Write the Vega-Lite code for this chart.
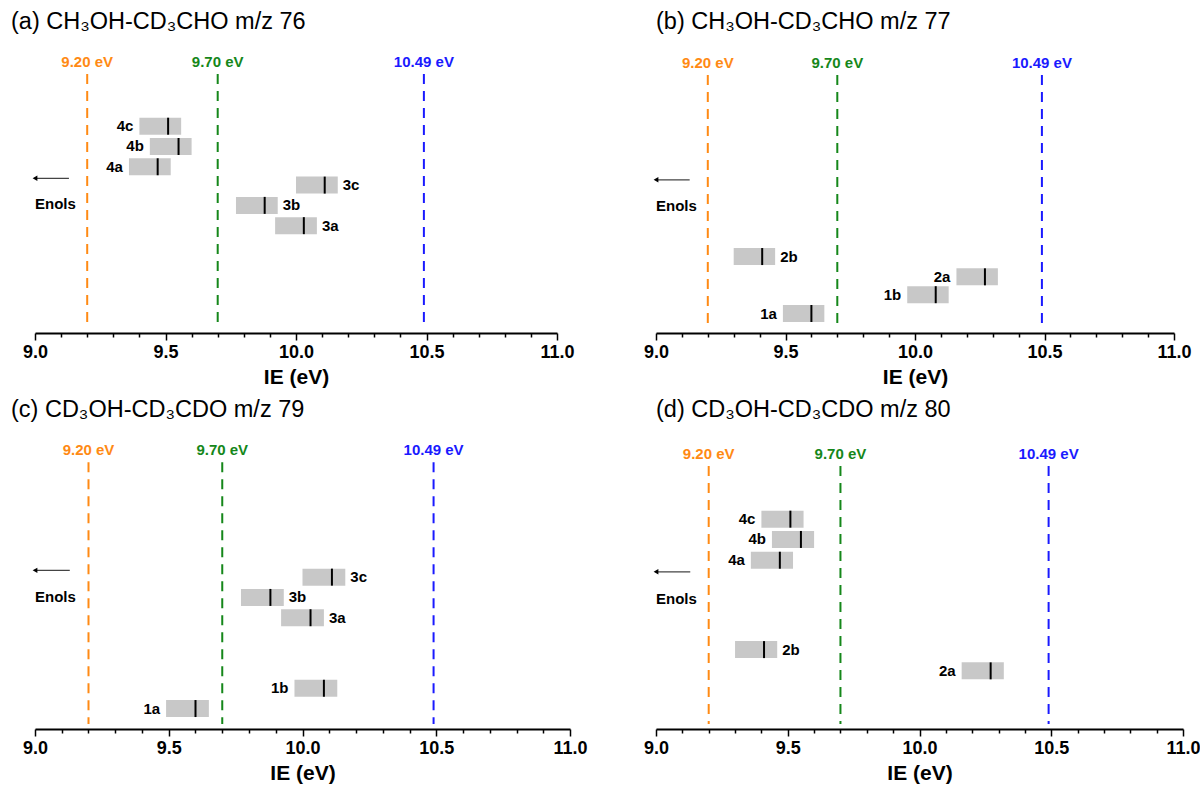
{
  "$schema": "https://vega.github.io/schema/vega-lite/v6.json",
  "padding": {"left": 11, "top": 9, "right": 5, "bottom": 5},
  "bounds": "flush",
  "columns": 2,
  "spacing": {"row": 100, "column": 86},
  "config": {
    "view": {"stroke": null},
    "font": "Liberation Sans",
    "axis": {"grid": false}
  },
  "datasets": {
    "refs": [
      {"panel": "a", "ie": 9.20, "label": "9.20 eV", "top": 263},
      {"panel": "a", "ie": 9.70, "label": "9.70 eV", "top": 263},
      {"panel": "a", "ie": 10.49, "label": "10.49 eV", "top": 263},
      {"panel": "b", "ie": 9.20, "label": "9.20 eV", "top": 262},
      {"panel": "b", "ie": 9.70, "label": "9.70 eV", "top": 262},
      {"panel": "b", "ie": 10.49, "label": "10.49 eV", "top": 262},
      {"panel": "c", "ie": 9.20, "label": "9.20 eV", "top": 271},
      {"panel": "c", "ie": 9.70, "label": "9.70 eV", "top": 271},
      {"panel": "c", "ie": 10.49, "label": "10.49 eV", "top": 271},
      {"panel": "d", "ie": 9.20, "label": "9.20 eV", "top": 267},
      {"panel": "d", "ie": 9.70, "label": "9.70 eV", "top": 267},
      {"panel": "d", "ie": 10.49, "label": "10.49 eV", "top": 267}
    ],
    "boxes": [
      {"panel": "a", "species": "4c", "ie": 9.51, "lo": 9.40, "hi": 9.56, "level": 209, "side": "left"},
      {"panel": "a", "species": "4b", "ie": 9.55, "lo": 9.44, "hi": 9.60, "level": 188, "side": "left"},
      {"panel": "a", "species": "4a", "ie": 9.47, "lo": 9.36, "hi": 9.52, "level": 167, "side": "left"},
      {"panel": "a", "species": "3c", "ie": 10.11, "lo": 10.00, "hi": 10.16, "level": 148, "side": "right"},
      {"panel": "a", "species": "3b", "ie": 9.88, "lo": 9.77, "hi": 9.93, "level": 127, "side": "right"},
      {"panel": "a", "species": "3a", "ie": 10.03, "lo": 9.92, "hi": 10.08, "level": 106, "side": "right"},
      {"panel": "b", "species": "2b", "ie": 9.41, "lo": 9.30, "hi": 9.46, "level": 74, "side": "right"},
      {"panel": "b", "species": "2a", "ie": 10.27, "lo": 10.16, "hi": 10.32, "level": 53, "side": "left"},
      {"panel": "b", "species": "1b", "ie": 10.08, "lo": 9.97, "hi": 10.13, "level": 34.5, "side": "left"},
      {"panel": "b", "species": "1a", "ie": 9.60, "lo": 9.49, "hi": 9.65, "level": 15, "side": "left"},
      {"panel": "c", "species": "3c", "ie": 10.11, "lo": 10.00, "hi": 10.16, "level": 152, "side": "right"},
      {"panel": "c", "species": "3b", "ie": 9.88, "lo": 9.77, "hi": 9.93, "level": 131, "side": "right"},
      {"panel": "c", "species": "3a", "ie": 10.03, "lo": 9.92, "hi": 10.08, "level": 110, "side": "right"},
      {"panel": "c", "species": "1b", "ie": 10.08, "lo": 9.97, "hi": 10.13, "level": 37, "side": "left"},
      {"panel": "c", "species": "1a", "ie": 9.60, "lo": 9.49, "hi": 9.65, "level": 16, "side": "left"},
      {"panel": "d", "species": "4c", "ie": 9.51, "lo": 9.40, "hi": 9.56, "level": 212, "side": "left"},
      {"panel": "d", "species": "4b", "ie": 9.55, "lo": 9.44, "hi": 9.60, "level": 191, "side": "left"},
      {"panel": "d", "species": "4a", "ie": 9.47, "lo": 9.36, "hi": 9.52, "level": 169.5, "side": "left"},
      {"panel": "d", "species": "2b", "ie": 9.41, "lo": 9.30, "hi": 9.46, "level": 77, "side": "right"},
      {"panel": "d", "species": "2a", "ie": 10.27, "lo": 10.16, "hi": 10.32, "level": 55, "side": "left"}
    ],
    "notes": [
      {"panel": "a", "head": 9.0, "tail": 9.13, "arrow": 155, "enols": 128, "text": "Enols"},
      {"panel": "b", "head": 9.0, "tail": 9.13, "arrow": 153.5, "enols": 126, "text": "Enols"},
      {"panel": "c", "head": 9.0, "tail": 9.13, "arrow": 159, "enols": 131, "text": "Enols"},
      {"panel": "d", "head": 9.0, "tail": 9.13, "arrow": 157.5, "enols": 129.5, "text": "Enols"}
    ]
  },
  "concat": [
    {
      "width": 522, "height": 290,
      "title": {"text": "(a) CH₃OH-CD₃CHO m/z 76", "anchor": "start", "frame": "group", "dx": -24, "offset": 10, "fontSize": 23.5, "fontWeight": "normal", "font": "Liberation Sans", "color": "#000"},
      "resolve": {"axis": {"x": "independent"}},
      "layer": [
        {"data": {"name": "refs"}, "transform": [{"filter": "datum.panel === 'a'"}],
         "mark": {"type": "rule", "strokeDash": [10, 7], "strokeWidth": 2},
         "encoding": {
           "x": {"field": "ie", "type": "quantitative", "scale": {"domain": [9, 11], "nice": false, "zero": false},
                 "axis": {"orient": "bottom", "values": [9, 9.5, 10, 10.5, 11], "format": ".1f", "domainColor": "#000", "domainWidth": 2, "tickColor": "#000", "tickWidth": 1.5, "tickSize": 7, "labelFont": "Liberation Sans", "labelFontSize": 18, "labelFontWeight": "bold", "labelColor": "#000", "labelPadding": 3, "labelFlush": false, "labelOverlap": false, "labelBound": false, "title": "IE (eV)", "titleFont": "Liberation Sans", "titleFontSize": 21, "titleFontWeight": "bold", "titleColor": "#000", "titlePadding": 5}},
           "y": {"field": "top", "type": "quantitative", "scale": {"domain": [0, 290], "nice": false, "zero": false}, "axis": null},
           "y2": {"datum": 0},
           "color": {"field": "label", "type": "nominal", "scale": {"domain": ["9.20 eV", "9.70 eV", "10.49 eV"], "range": ["#FF8A14", "#15871A", "#1A1AFF"]}, "legend": null}
         }},
        {"data": {"name": "refs"}, "transform": [{"filter": "datum.panel === 'a'"}],
         "mark": {"type": "text", "fontWeight": "bold", "fontSize": 15, "font": "Liberation Sans", "dy": -12, "baseline": "middle", "align": "center"},
         "encoding": {
           "x": {"field": "ie", "type": "quantitative",
                 "axis": {"orient": "bottom", "values": [9.1, 9.2, 9.3, 9.4, 9.6, 9.7, 9.8, 9.9, 10.1, 10.2, 10.3, 10.4, 10.6, 10.7, 10.8, 10.9], "labels": false, "domain": false, "tickSize": 4, "tickWidth": 1.5, "tickColor": "#000", "title": null}},
           "y": {"field": "top", "type": "quantitative", "axis": null},
           "text": {"field": "label"},
           "color": {"field": "label", "type": "nominal", "legend": null}
         }},
        {"data": {"name": "boxes"}, "transform": [{"filter": "datum.panel === 'a'"}],
         "mark": {"type": "bar", "orient": "horizontal", "size": 17, "color": "#C8C8C8"},
         "encoding": {"x": {"field": "lo", "type": "quantitative", "axis": null}, "x2": {"field": "hi"}, "y": {"field": "level", "type": "quantitative", "axis": null}}},
        {"data": {"name": "boxes"}, "transform": [{"filter": "datum.panel === 'a'"}],
         "mark": {"type": "tick", "orient": "vertical", "size": 17, "thickness": 2, "color": "#000", "opacity": 1},
         "encoding": {"x": {"field": "ie", "type": "quantitative", "axis": null}, "y": {"field": "level", "type": "quantitative", "axis": null}}},
        {"data": {"name": "boxes"}, "transform": [{"filter": "datum.panel === 'a' && datum.side === 'left'"}],
         "mark": {"type": "text", "align": "right", "baseline": "middle", "dx": -6, "fontWeight": "bold", "fontSize": 15, "font": "Liberation Sans", "color": "#000"},
         "encoding": {"x": {"field": "lo", "type": "quantitative", "axis": null}, "y": {"field": "level", "type": "quantitative", "axis": null}, "text": {"field": "species"}}},
        {"data": {"name": "boxes"}, "transform": [{"filter": "datum.panel === 'a' && datum.side === 'right'"}],
         "mark": {"type": "text", "align": "left", "baseline": "middle", "dx": 5, "fontWeight": "bold", "fontSize": 15, "font": "Liberation Sans", "color": "#000"},
         "encoding": {"x": {"field": "hi", "type": "quantitative", "axis": null}, "y": {"field": "level", "type": "quantitative", "axis": null}, "text": {"field": "species"}}},
        {"data": {"name": "notes"}, "transform": [{"filter": "datum.panel === 'a'"}],
         "mark": {"type": "rule", "color": "#444", "strokeWidth": 1.2},
         "encoding": {"x": {"field": "head", "type": "quantitative", "axis": null}, "x2": {"field": "tail"}, "y": {"field": "arrow", "type": "quantitative", "axis": null}}},
        {"data": {"name": "notes"}, "transform": [{"filter": "datum.panel === 'a'"}],
         "mark": {"type": "point", "shape": "triangle-left", "filled": true, "size": 30, "color": "#000", "opacity": 1, "dx": 2},
         "encoding": {"x": {"field": "head", "type": "quantitative", "axis": null}, "y": {"field": "arrow", "type": "quantitative", "axis": null}}},
        {"data": {"name": "notes"}, "transform": [{"filter": "datum.panel === 'a'"}],
         "mark": {"type": "text", "align": "left", "baseline": "middle", "fontWeight": "bold", "fontSize": 15, "font": "Liberation Sans", "color": "#000"},
         "encoding": {"x": {"field": "head", "type": "quantitative", "axis": null}, "y": {"field": "enols", "type": "quantitative", "axis": null}, "text": {"field": "text"}}}
      ]
    },
    {
      "width": 518, "height": 290,
      "title": {"text": "(b) CH₃OH-CD₃CHO m/z 77", "anchor": "start", "frame": "group", "dx": 0, "offset": 10, "fontSize": 23.5, "fontWeight": "normal", "font": "Liberation Sans", "color": "#000"},
      "resolve": {"axis": {"x": "independent"}},
      "layer": [
        {"data": {"name": "refs"}, "transform": [{"filter": "datum.panel === 'b'"}],
         "mark": {"type": "rule", "strokeDash": [10, 7], "strokeWidth": 2},
         "encoding": {
           "x": {"field": "ie", "type": "quantitative", "scale": {"domain": [9, 11], "nice": false, "zero": false},
                 "axis": {"orient": "bottom", "values": [9, 9.5, 10, 10.5, 11], "format": ".1f", "domainColor": "#000", "domainWidth": 2, "tickColor": "#000", "tickWidth": 1.5, "tickSize": 7, "labelFont": "Liberation Sans", "labelFontSize": 18, "labelFontWeight": "bold", "labelColor": "#000", "labelPadding": 3, "labelFlush": false, "labelOverlap": false, "labelBound": false, "title": "IE (eV)", "titleFont": "Liberation Sans", "titleFontSize": 21, "titleFontWeight": "bold", "titleColor": "#000", "titlePadding": 5}},
           "y": {"field": "top", "type": "quantitative", "scale": {"domain": [0, 290], "nice": false, "zero": false}, "axis": null},
           "y2": {"datum": 0},
           "color": {"field": "label", "type": "nominal", "scale": {"domain": ["9.20 eV", "9.70 eV", "10.49 eV"], "range": ["#FF8A14", "#15871A", "#1A1AFF"]}, "legend": null}
         }},
        {"data": {"name": "refs"}, "transform": [{"filter": "datum.panel === 'b'"}],
         "mark": {"type": "text", "fontWeight": "bold", "fontSize": 15, "font": "Liberation Sans", "dy": -12, "baseline": "middle", "align": "center"},
         "encoding": {
           "x": {"field": "ie", "type": "quantitative",
                 "axis": {"orient": "bottom", "values": [9.1, 9.2, 9.3, 9.4, 9.6, 9.7, 9.8, 9.9, 10.1, 10.2, 10.3, 10.4, 10.6, 10.7, 10.8, 10.9], "labels": false, "domain": false, "tickSize": 4, "tickWidth": 1.5, "tickColor": "#000", "title": null}},
           "y": {"field": "top", "type": "quantitative", "axis": null},
           "text": {"field": "label"},
           "color": {"field": "label", "type": "nominal", "legend": null}
         }},
        {"data": {"name": "boxes"}, "transform": [{"filter": "datum.panel === 'b'"}],
         "mark": {"type": "bar", "orient": "horizontal", "size": 17, "color": "#C8C8C8"},
         "encoding": {"x": {"field": "lo", "type": "quantitative", "axis": null}, "x2": {"field": "hi"}, "y": {"field": "level", "type": "quantitative", "axis": null}}},
        {"data": {"name": "boxes"}, "transform": [{"filter": "datum.panel === 'b'"}],
         "mark": {"type": "tick", "orient": "vertical", "size": 17, "thickness": 2, "color": "#000", "opacity": 1},
         "encoding": {"x": {"field": "ie", "type": "quantitative", "axis": null}, "y": {"field": "level", "type": "quantitative", "axis": null}}},
        {"data": {"name": "boxes"}, "transform": [{"filter": "datum.panel === 'b' && datum.side === 'left'"}],
         "mark": {"type": "text", "align": "right", "baseline": "middle", "dx": -6, "fontWeight": "bold", "fontSize": 15, "font": "Liberation Sans", "color": "#000"},
         "encoding": {"x": {"field": "lo", "type": "quantitative", "axis": null}, "y": {"field": "level", "type": "quantitative", "axis": null}, "text": {"field": "species"}}},
        {"data": {"name": "boxes"}, "transform": [{"filter": "datum.panel === 'b' && datum.side === 'right'"}],
         "mark": {"type": "text", "align": "left", "baseline": "middle", "dx": 5, "fontWeight": "bold", "fontSize": 15, "font": "Liberation Sans", "color": "#000"},
         "encoding": {"x": {"field": "hi", "type": "quantitative", "axis": null}, "y": {"field": "level", "type": "quantitative", "axis": null}, "text": {"field": "species"}}},
        {"data": {"name": "notes"}, "transform": [{"filter": "datum.panel === 'b'"}],
         "mark": {"type": "rule", "color": "#444", "strokeWidth": 1.2},
         "encoding": {"x": {"field": "head", "type": "quantitative", "axis": null}, "x2": {"field": "tail"}, "y": {"field": "arrow", "type": "quantitative", "axis": null}}},
        {"data": {"name": "notes"}, "transform": [{"filter": "datum.panel === 'b'"}],
         "mark": {"type": "point", "shape": "triangle-left", "filled": true, "size": 30, "color": "#000", "opacity": 1, "dx": 2},
         "encoding": {"x": {"field": "head", "type": "quantitative", "axis": null}, "y": {"field": "arrow", "type": "quantitative", "axis": null}}},
        {"data": {"name": "notes"}, "transform": [{"filter": "datum.panel === 'b'"}],
         "mark": {"type": "text", "align": "left", "baseline": "middle", "fontWeight": "bold", "fontSize": 15, "font": "Liberation Sans", "color": "#000"},
         "encoding": {"x": {"field": "head", "type": "quantitative", "axis": null}, "y": {"field": "enols", "type": "quantitative", "axis": null}, "text": {"field": "text"}}}
      ]
    },
    {
      "width": 535, "height": 296,
      "title": {"text": "(c) CD₃OH-CD₃CDO m/z 79", "anchor": "start", "frame": "group", "dx": -24, "offset": 12, "fontSize": 23.5, "fontWeight": "normal", "font": "Liberation Sans", "color": "#000"},
      "resolve": {"axis": {"x": "independent"}},
      "layer": [
        {"data": {"name": "refs"}, "transform": [{"filter": "datum.panel === 'c'"}],
         "mark": {"type": "rule", "strokeDash": [10, 7], "strokeWidth": 2},
         "encoding": {
           "x": {"field": "ie", "type": "quantitative", "scale": {"domain": [9, 11], "nice": false, "zero": false},
                 "axis": {"orient": "bottom", "values": [9, 9.5, 10, 10.5, 11], "format": ".1f", "domainColor": "#000", "domainWidth": 2, "tickColor": "#000", "tickWidth": 1.5, "tickSize": 7, "labelFont": "Liberation Sans", "labelFontSize": 18, "labelFontWeight": "bold", "labelColor": "#000", "labelPadding": 3, "labelFlush": false, "labelOverlap": false, "labelBound": false, "title": "IE (eV)", "titleFont": "Liberation Sans", "titleFontSize": 21, "titleFontWeight": "bold", "titleColor": "#000", "titlePadding": 5}},
           "y": {"field": "top", "type": "quantitative", "scale": {"domain": [0, 296], "nice": false, "zero": false}, "axis": null},
           "y2": {"datum": 0},
           "color": {"field": "label", "type": "nominal", "scale": {"domain": ["9.20 eV", "9.70 eV", "10.49 eV"], "range": ["#FF8A14", "#15871A", "#1A1AFF"]}, "legend": null}
         }},
        {"data": {"name": "refs"}, "transform": [{"filter": "datum.panel === 'c'"}],
         "mark": {"type": "text", "fontWeight": "bold", "fontSize": 15, "font": "Liberation Sans", "dy": -12, "baseline": "middle", "align": "center"},
         "encoding": {
           "x": {"field": "ie", "type": "quantitative",
                 "axis": {"orient": "bottom", "values": [9.1, 9.2, 9.3, 9.4, 9.6, 9.7, 9.8, 9.9, 10.1, 10.2, 10.3, 10.4, 10.6, 10.7, 10.8, 10.9], "labels": false, "domain": false, "tickSize": 4, "tickWidth": 1.5, "tickColor": "#000", "title": null}},
           "y": {"field": "top", "type": "quantitative", "axis": null},
           "text": {"field": "label"},
           "color": {"field": "label", "type": "nominal", "legend": null}
         }},
        {"data": {"name": "boxes"}, "transform": [{"filter": "datum.panel === 'c'"}],
         "mark": {"type": "bar", "orient": "horizontal", "size": 17, "color": "#C8C8C8"},
         "encoding": {"x": {"field": "lo", "type": "quantitative", "axis": null}, "x2": {"field": "hi"}, "y": {"field": "level", "type": "quantitative", "axis": null}}},
        {"data": {"name": "boxes"}, "transform": [{"filter": "datum.panel === 'c'"}],
         "mark": {"type": "tick", "orient": "vertical", "size": 17, "thickness": 2, "color": "#000", "opacity": 1},
         "encoding": {"x": {"field": "ie", "type": "quantitative", "axis": null}, "y": {"field": "level", "type": "quantitative", "axis": null}}},
        {"data": {"name": "boxes"}, "transform": [{"filter": "datum.panel === 'c' && datum.side === 'left'"}],
         "mark": {"type": "text", "align": "right", "baseline": "middle", "dx": -6, "fontWeight": "bold", "fontSize": 15, "font": "Liberation Sans", "color": "#000"},
         "encoding": {"x": {"field": "lo", "type": "quantitative", "axis": null}, "y": {"field": "level", "type": "quantitative", "axis": null}, "text": {"field": "species"}}},
        {"data": {"name": "boxes"}, "transform": [{"filter": "datum.panel === 'c' && datum.side === 'right'"}],
         "mark": {"type": "text", "align": "left", "baseline": "middle", "dx": 5, "fontWeight": "bold", "fontSize": 15, "font": "Liberation Sans", "color": "#000"},
         "encoding": {"x": {"field": "hi", "type": "quantitative", "axis": null}, "y": {"field": "level", "type": "quantitative", "axis": null}, "text": {"field": "species"}}},
        {"data": {"name": "notes"}, "transform": [{"filter": "datum.panel === 'c'"}],
         "mark": {"type": "rule", "color": "#444", "strokeWidth": 1.2},
         "encoding": {"x": {"field": "head", "type": "quantitative", "axis": null}, "x2": {"field": "tail"}, "y": {"field": "arrow", "type": "quantitative", "axis": null}}},
        {"data": {"name": "notes"}, "transform": [{"filter": "datum.panel === 'c'"}],
         "mark": {"type": "point", "shape": "triangle-left", "filled": true, "size": 30, "color": "#000", "opacity": 1, "dx": 2},
         "encoding": {"x": {"field": "head", "type": "quantitative", "axis": null}, "y": {"field": "arrow", "type": "quantitative", "axis": null}}},
        {"data": {"name": "notes"}, "transform": [{"filter": "datum.panel === 'c'"}],
         "mark": {"type": "text", "align": "left", "baseline": "middle", "fontWeight": "bold", "fontSize": 15, "font": "Liberation Sans", "color": "#000"},
         "encoding": {"x": {"field": "head", "type": "quantitative", "axis": null}, "y": {"field": "enols", "type": "quantitative", "axis": null}, "text": {"field": "text"}}}
      ]
    },
    {
      "width": 527, "height": 296,
      "title": {"text": "(d) CD₃OH-CD₃CDO m/z 80", "anchor": "start", "frame": "group", "dx": 0, "offset": 12, "fontSize": 23.5, "fontWeight": "normal", "font": "Liberation Sans", "color": "#000"},
      "resolve": {"axis": {"x": "independent"}},
      "layer": [
        {"data": {"name": "refs"}, "transform": [{"filter": "datum.panel === 'd'"}],
         "mark": {"type": "rule", "strokeDash": [10, 7], "strokeWidth": 2},
         "encoding": {
           "x": {"field": "ie", "type": "quantitative", "scale": {"domain": [9, 11], "nice": false, "zero": false},
                 "axis": {"orient": "bottom", "values": [9, 9.5, 10, 10.5, 11], "format": ".1f", "domainColor": "#000", "domainWidth": 2, "tickColor": "#000", "tickWidth": 1.5, "tickSize": 7, "labelFont": "Liberation Sans", "labelFontSize": 18, "labelFontWeight": "bold", "labelColor": "#000", "labelPadding": 3, "labelFlush": false, "labelOverlap": false, "labelBound": false, "title": "IE (eV)", "titleFont": "Liberation Sans", "titleFontSize": 21, "titleFontWeight": "bold", "titleColor": "#000", "titlePadding": 5}},
           "y": {"field": "top", "type": "quantitative", "scale": {"domain": [0, 296], "nice": false, "zero": false}, "axis": null},
           "y2": {"datum": 0},
           "color": {"field": "label", "type": "nominal", "scale": {"domain": ["9.20 eV", "9.70 eV", "10.49 eV"], "range": ["#FF8A14", "#15871A", "#1A1AFF"]}, "legend": null}
         }},
        {"data": {"name": "refs"}, "transform": [{"filter": "datum.panel === 'd'"}],
         "mark": {"type": "text", "fontWeight": "bold", "fontSize": 15, "font": "Liberation Sans", "dy": -12, "baseline": "middle", "align": "center"},
         "encoding": {
           "x": {"field": "ie", "type": "quantitative",
                 "axis": {"orient": "bottom", "values": [9.1, 9.2, 9.3, 9.4, 9.6, 9.7, 9.8, 9.9, 10.1, 10.2, 10.3, 10.4, 10.6, 10.7, 10.8, 10.9], "labels": false, "domain": false, "tickSize": 4, "tickWidth": 1.5, "tickColor": "#000", "title": null}},
           "y": {"field": "top", "type": "quantitative", "axis": null},
           "text": {"field": "label"},
           "color": {"field": "label", "type": "nominal", "legend": null}
         }},
        {"data": {"name": "boxes"}, "transform": [{"filter": "datum.panel === 'd'"}],
         "mark": {"type": "bar", "orient": "horizontal", "size": 17, "color": "#C8C8C8"},
         "encoding": {"x": {"field": "lo", "type": "quantitative", "axis": null}, "x2": {"field": "hi"}, "y": {"field": "level", "type": "quantitative", "axis": null}}},
        {"data": {"name": "boxes"}, "transform": [{"filter": "datum.panel === 'd'"}],
         "mark": {"type": "tick", "orient": "vertical", "size": 17, "thickness": 2, "color": "#000", "opacity": 1},
         "encoding": {"x": {"field": "ie", "type": "quantitative", "axis": null}, "y": {"field": "level", "type": "quantitative", "axis": null}}},
        {"data": {"name": "boxes"}, "transform": [{"filter": "datum.panel === 'd' && datum.side === 'left'"}],
         "mark": {"type": "text", "align": "right", "baseline": "middle", "dx": -6, "fontWeight": "bold", "fontSize": 15, "font": "Liberation Sans", "color": "#000"},
         "encoding": {"x": {"field": "lo", "type": "quantitative", "axis": null}, "y": {"field": "level", "type": "quantitative", "axis": null}, "text": {"field": "species"}}},
        {"data": {"name": "boxes"}, "transform": [{"filter": "datum.panel === 'd' && datum.side === 'right'"}],
         "mark": {"type": "text", "align": "left", "baseline": "middle", "dx": 5, "fontWeight": "bold", "fontSize": 15, "font": "Liberation Sans", "color": "#000"},
         "encoding": {"x": {"field": "hi", "type": "quantitative", "axis": null}, "y": {"field": "level", "type": "quantitative", "axis": null}, "text": {"field": "species"}}},
        {"data": {"name": "notes"}, "transform": [{"filter": "datum.panel === 'd'"}],
         "mark": {"type": "rule", "color": "#444", "strokeWidth": 1.2},
         "encoding": {"x": {"field": "head", "type": "quantitative", "axis": null}, "x2": {"field": "tail"}, "y": {"field": "arrow", "type": "quantitative", "axis": null}}},
        {"data": {"name": "notes"}, "transform": [{"filter": "datum.panel === 'd'"}],
         "mark": {"type": "point", "shape": "triangle-left", "filled": true, "size": 30, "color": "#000", "opacity": 1, "dx": 2},
         "encoding": {"x": {"field": "head", "type": "quantitative", "axis": null}, "y": {"field": "arrow", "type": "quantitative", "axis": null}}},
        {"data": {"name": "notes"}, "transform": [{"filter": "datum.panel === 'd'"}],
         "mark": {"type": "text", "align": "left", "baseline": "middle", "fontWeight": "bold", "fontSize": 15, "font": "Liberation Sans", "color": "#000"},
         "encoding": {"x": {"field": "head", "type": "quantitative", "axis": null}, "y": {"field": "enols", "type": "quantitative", "axis": null}, "text": {"field": "text"}}}
      ]
    }
  ]
}
